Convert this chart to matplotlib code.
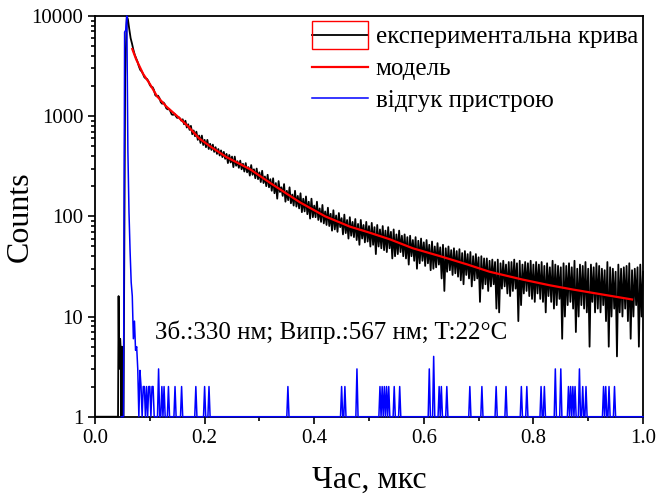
import numpy as np
import matplotlib
matplotlib.use("Agg")
import matplotlib.pyplot as plt
from matplotlib import ticker
from matplotlib.patches import Rectangle

plt.rcParams['font.family'] = ['Liberation Serif', 'DejaVu Serif']

# experimental decay (counts), lead-in part with irregular times
black_pre_t = [0.0, 0.042, 0.043, 0.044, 0.045, 0.046, 0.047, 0.048, 0.049, 0.050, 0.052, 0.055, 0.058]
black_pre_n = [0, 0, 16, 3, 5.8, 6, 4.5, 0, 5, 0, 0, 2500, 9900]

# experimental decay, channels at 0.060, 0.065, ... 1.000 us
black_n_a = [
    9300, 6000, 4600, 3800, 3150, 2800, 2450, 2350, 2050, 1950,
    1620, 1600, 1380, 1370, 1200, 1180, 1040, 1060, 960, 950,
    930, 900, 830, 800, 720, 700, 640, 640, 580, 580,
    530, 520, 490, 470, 455, 440, 420, 410, 395, 395,
    355, 360, 335, 340, 310, 325, 295, 300, 275, 285,
    250, 260, 235, 240, 215, 225, 195, 210, 180, 195,
    165, 180, 160, 170, 150, 158, 140, 150, 128, 140,
    120, 130, 112, 122, 106, 115, 102, 108, 96, 104,
    92, 98, 88, 94, 84, 92, 82, 88, 80, 86,
    78, 82, 74, 80, 72, 78, 70, 74, 66, 72,
    64, 66, 62, 64, 58, 62, 57, 60, 55, 58,
    52, 56, 50, 54, 49, 52, 48, 50, 46, 48,
    45, 47, 43, 45, 42, 44, 40, 42, 39, 40,
    38, 38, 36, 37, 35, 37, 34, 36, 33, 35,
    35, 37, 34, 36, 33, 35, 34, 36, 33, 35,
    33, 35, 32, 34, 31, 36, 33, 32, 31, 34,
    32, 34, 31, 36, 30, 33, 32, 35, 30, 33,
    31, 34, 32, 30, 29, 35, 31, 30, 28, 33,
    30, 31, 32, 34, 29, 30, 31, 33, 28,
]

# experimental decay, channels in between: 0.0625, 0.0675, ... 0.9975 us
black_n_b = [
    7400, 5300, 4100, 3500, 2900, 2650, 2380, 2230, 1960, 1830,
    1580, 1520, 1330, 1310, 1170, 1120, 1030, 1000, 980, 900,
    830, 770, 730, 660, 630, 580, 540, 515, 490, 470,
    460, 440, 420, 405, 390, 375, 340, 345, 310, 320,
    305, 295, 280, 275, 255, 260, 240, 235, 220, 215,
    200, 195, 180, 170, 150, 175, 160, 140, 145, 135,
    128, 125, 120, 110, 112, 105, 95, 98, 98, 92,
    88, 85, 82, 80, 72, 74, 70, 78, 66, 68,
    60, 64, 62, 58, 52, 60, 55, 56, 50, 52,
    42, 50, 48, 46, 44, 48, 38, 40, 42, 44,
    40, 38, 33, 40, 36, 30, 34, 36, 32, 34,
    29, 30, 31, 33, 24, 18, 28, 29, 26, 27,
    25, 23, 21, 26, 24, 20, 23, 24, 14, 19,
    21, 18, 20, 21, 12, 11, 19, 20, 17, 16,
    18, 19, 9, 13, 17, 18, 16, 15, 14, 17,
    15, 14, 11, 16, 14, 12, 13, 15, 6, 10,
    13, 14, 12, 7, 10, 13, 12, 11, 5, 14,
    11, 12, 11, 13, 9, 5, 10, 12, 4, 11,
    10, 12, 9, 6, 10, 13, 5, 10,
]

# fitted model
model_t = [0.068, 0.075, 0.088, 0.10, 0.113, 0.13, 0.15, 0.17, 0.19, 0.21, 0.24, 0.283, 0.32,
           0.374, 0.42, 0.465, 0.50, 0.538, 0.58, 0.63, 0.68, 0.72, 0.78, 0.83, 0.872, 0.92, 0.98]
model_n = [4680, 3700, 2630, 2100, 1585, 1250, 1000, 790, 600, 500, 390, 295, 215,
           138, 100, 79, 69, 59, 48, 40, 33, 28, 23.4, 20.5, 18.6, 16.8, 14.8]

# instrument response: non-zero channels (0.002 us channels)
blue_t = [0.054, 0.056, 0.058, 0.060, 0.062, 0.064, 0.066, 0.068, 0.070, 0.072, 0.074, 0.076, 0.078,
          0.082, 0.084, 0.088, 0.090, 0.094, 0.098, 0.100, 0.104, 0.106, 0.116, 0.122, 0.126, 0.134,
          0.146, 0.158, 0.184, 0.200, 0.208, 0.352, 0.450, 0.456, 0.478, 0.520, 0.524, 0.528, 0.532,
          0.536, 0.546, 0.556, 0.610, 0.618, 0.628, 0.632, 0.642, 0.684, 0.706, 0.732, 0.750, 0.778,
          0.788, 0.814, 0.820, 0.840, 0.850, 0.864, 0.868, 0.872, 0.876, 0.884, 0.890, 0.896, 0.928,
          0.932, 0.938, 0.948]
blue_n = [6900, 7200, 10000, 450, 110, 45, 22, 16, 6, 9, 4.6, 5, 3,
          2.9, 2, 2, 2, 2, 2, 2, 2, 2, 3, 2, 2, 2,
          2, 2, 2, 2, 2, 2, 2, 2, 3, 2, 2, 2, 2,
          2, 2, 2, 3, 4, 2, 2, 2, 2, 2, 2, 2, 2,
          2, 2, 2, 3, 3, 2, 2, 2, 2, 3, 2, 2, 2,
          2, 2, 2]

# merge the two channel sets of the decay in time order
grid_a = np.round(np.arange(0.060, 1.0001, 0.005), 4)
grid_b = np.round(np.arange(0.0625, 0.9976, 0.005), 4)
t_all = np.concatenate([black_pre_t, grid_a, grid_b])
n_all = np.concatenate([black_pre_n, black_n_a, black_n_b])
order = np.argsort(t_all, kind='stable')
black_t, black_counts = t_all[order], n_all[order]

dx = 0.002
blue_grid = np.round(np.arange(0.048, 1.0001, dx), 3)
blue_counts = np.zeros_like(blue_grid)
for t, n in zip(blue_t, blue_n):
    blue_counts[int(round((t - 0.048) / dx))] = n

fig = plt.figure(figsize=(6.58, 5.04), dpi=100)
ax = fig.add_axes([0.1444, 0.1732, 0.8328, 0.7951])

l1, = ax.plot(black_t, np.clip(black_counts, 1, None), color='black', lw=1.3, clip_on=False, zorder=2)
l2, = ax.plot(model_t, model_n, color='red', lw=1.6, zorder=3)
l3, = ax.plot(blue_grid, np.clip(blue_counts, 1, None), color='blue', lw=1.1, clip_on=False, zorder=4)

ax.set_yscale('log')
ax.set_ylim(1, 10000)
ax.set_xlim(0, 1)
ax.set_xticks([0.0, 0.2, 0.4, 0.6, 0.8, 1.0])
ax.xaxis.set_minor_locator(ticker.MultipleLocator(0.1))
ax.xaxis.set_major_formatter(ticker.FormatStrFormatter('%.1f'))
ax.yaxis.set_major_formatter(ticker.FuncFormatter(lambda v, p: f'{v:g}'))
ax.yaxis.set_minor_formatter(ticker.NullFormatter())
ax.tick_params(which='both', direction='out', top=False, right=False, labelsize=15, width=1.2)
ax.tick_params(which='major', length=5)
ax.tick_params(which='minor', length=3)
for s in ax.spines.values():
    s.set_linewidth(1.3)

ax.set_xlabel('Час, мкс', fontsize=23, labelpad=13)
ax.set_ylabel('Counts', fontsize=23)
ax.yaxis.set_label_coords(-0.11, 0.5)

ax.text(0.1095, 5.9, 'Зб.:330 нм; Випр.:567 нм; T:22°C', fontsize=18, va='baseline', ha='left')

ax.legend([l1, l2, l3], ['експериментальна крива', 'модель', 'відгук пристрою'],
          loc='upper left', bbox_to_anchor=(312 / 658, 1 - 26 / 504), bbox_transform=fig.transFigure,
          frameon=False, fontsize=18, handlelength=2.25, handletextpad=0.3, labelspacing=0.37,
          borderpad=0, borderaxespad=0)
fig.add_artist(Rectangle((311.7 / 658, 1 - 49 / 504), 56.6 / 658, 28.3 / 504,
                         transform=fig.transFigure, fill=False, edgecolor='red', lw=1))

fig.savefig('out.png', dpi=100)
